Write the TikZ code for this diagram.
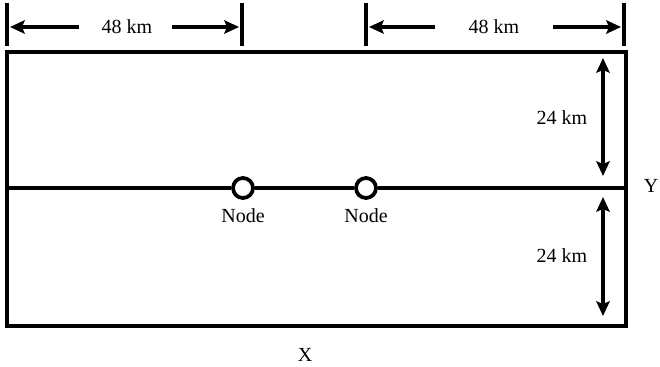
\documentclass[tikz,border=0pt]{standalone}
\usepackage{fontspec}
\setmainfont{Liberation Serif}
\usetikzlibrary{arrows.meta}
\begin{document}
\begin{tikzpicture}[x=0.75pt, y=-0.75pt,
    >={Stealth[length=11pt, width=10pt, inset=2pt]},
    every node/.style={font=\fontsize{15}{18}\selectfont},
    dim/.style={line width=2.6pt, ->},
    tickline/.style={line width=2.8pt},
    wall/.style={line width=2.8pt},
    hub/.style={circle, draw, line width=2.8pt, minimum size=15pt, inner sep=0pt, fill=white}]
      \useasboundingbox (0,0) rectangle (660,367);

      \draw[wall] (7,52) rectangle (626,326);

      \coordinate (west) at (7,188);
      \coordinate (east) at (626,188);
      \node[hub] (n1) at (243,188) {};
      \node[hub] (n2) at (366,188) {};
      \draw[wall] (west) -- (n1) -- (n2) -- (east);
      \node (l1) at (243,216) {Node};
      \node (l2) at (366,216) {Node};

      \draw[tickline] (7,3) coordinate (a0) -- (7,46);
      \draw[tickline] (242,3) coordinate (a1) -- (242,46);
      \draw[tickline] (366,3) coordinate (b0) -- (366,46);
      \draw[tickline] (624,3) coordinate (b1) -- (624,46);

      \node (w1) at (127,27) {48 km};
      \coordinate (w1l) at (79,27);
      \coordinate (w1r) at (172,27);
      \draw[dim] (w1l) -- (10,27);
      \draw[dim] (w1r) -- (239,27);

      \node (w2) at (494,27) {48 km};
      \coordinate (w2l) at (435,27);
      \coordinate (w2r) at (553,27);
      \draw[dim] (w2l) -- (369,27);
      \draw[dim] (w2r) -- (621,27);

      \coordinate (h1t) at (603,58);
      \coordinate (h1b) at (603,176);
      \coordinate (h2t) at (603,197);
      \coordinate (h2b) at (603,316);
      \draw[dim, <->] (h1t) -- (h1b);
      \draw[dim, <->] (h2t) -- (h2b);
      \node (d1) at (562,118) {24 km};
      \node (d2) at (562,256) {24 km};

      \node (ax) at (305,355) {X};
      \node (ay) at (651,186) {Y};
    \end{tikzpicture}
\end{document}
